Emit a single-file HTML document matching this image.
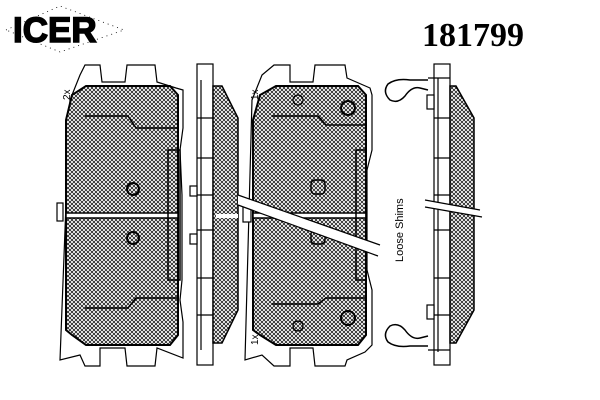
<!DOCTYPE html>
<html><head><style>
html,body{margin:0;padding:0;background:#fff;}
svg{display:block;}
</style></head><body>
<svg width="600" height="400" viewBox="0 0 600 400" xmlns="http://www.w3.org/2000/svg">
<defs>
<pattern id="h" width="4" height="4" patternUnits="userSpaceOnUse">
<rect width="4" height="4" fill="#fff"/>
<path d="M0,0L4,4M4,0L0,4" stroke="#000" stroke-width="0.7"/>
</pattern>
</defs>
<g fill="none" stroke="#000" stroke-width="1.2">
<!-- header -->
<text x="13" y="42" font-family="Liberation Sans,sans-serif" font-weight="bold" font-size="35" fill="#000" stroke="#000" stroke-width="1.5" letter-spacing="0">ICER</text>
<path d="M6,30 L60,6 L124,30 L60,52 Z" stroke-dasharray="1,4" stroke-width="0.8"/>
<text x="422" y="46" font-family="Liberation Serif,serif" font-weight="bold" font-size="34" fill="#000" stroke="none">181799</text>

<!-- left pad -->
<path d="M60,360 L70,100 L80,75 L85,65 L100,65 L102,82 L125,82 L127,65 L155,65 L157,82 L176,88 L183,90 L183,128 L180,150 L182,195 L182,280 L180,300 L183,322 L183,358 L157,348 L155,366 L127,366 L125,348 L100,348 L100,366 L85,366 L80,355 Z"/>
<path d="M66,330 L66,120 L72,95 L86,86 L170,86 L178,95 L178,335 L170,345 L86,345 L72,335 Z" fill="url(#h)" stroke-width="2"/>
<rect x="66" y="213" width="112" height="5" fill="#fff" stroke-width="1.5"/>
<path d="M85,116 L128,116 L136,128 L178,128 M85,308 L128,308 L136,298 L178,298 M168,150 L180,150 L180,280 L168,280 Z" stroke-width="1.5"/>
<circle cx="133" cy="189" r="6" stroke-width="2"/>
<circle cx="133" cy="238" r="6" stroke-width="2"/>
<rect x="57" y="203" width="6" height="18" fill="#fff"/>
<text x="70" y="100" font-family="Liberation Sans,sans-serif" font-size="10" fill="#000" stroke="none" transform="rotate(-90 70 100)">2x</text>

<!-- side view 1 -->
<rect x="197" y="64" width="16" height="301" fill="#fff"/>
<path d="M201,80 L201,350 M197,118 L213,118 M197,158 L213,158 M197,195 L213,195 M197,230 L213,230 M197,278 L213,278 M197,315 L213,315"/>
<path d="M213,86 L222,86 L238,118 L238,310 L222,343 L213,343 Z" fill="url(#h)" stroke-width="1.5"/>
<rect x="190" y="186" width="7" height="10" fill="#fff"/>
<rect x="190" y="234" width="7" height="10" fill="#fff"/>
<rect x="216" y="214" width="22" height="4" fill="#fff" stroke="none"/>

<!-- middle pad -->
<path d="M245,360 L252,100 L262,75 L274,65 L290,65 L290,82 L313,82 L315,65 L345,65 L347,78 L370,88 L372,95 L372,150 L367,170 L367,270 L372,290 L372,345 L365,352 L347,360 L345,366 L315,366 L313,348 L290,348 L290,366 L274,366 L262,355 Z"/>
<path d="M253,330 L253,120 L260,95 L276,86 L358,86 L366,95 L366,335 L358,345 L276,345 L260,335 Z" fill="url(#h)" stroke-width="2"/>
<rect x="253" y="213" width="113" height="5" fill="#fff" stroke-width="1.5"/>
<path d="M272,116 L318,116 L326,125 L366,125 M272,304 L318,304 L326,298 L366,298 M356,150 L366,150 L366,280 L356,280 Z" stroke-width="1.5"/>
<rect x="311" y="180" width="14" height="14" rx="4" fill="none" stroke-width="1.5"/>
<rect x="311" y="230" width="14" height="14" rx="4" fill="none" stroke-width="1.5"/>
<circle cx="348" cy="108" r="7" stroke-width="2"/>
<circle cx="348" cy="318" r="7" stroke-width="2"/>
<circle cx="298" cy="100" r="5"/>
<circle cx="298" cy="326" r="5"/>
<rect x="243" y="202" width="8" height="20" fill="#fff"/>
<text x="258" y="100" font-family="Liberation Sans,sans-serif" font-size="10" fill="#000" stroke="none" transform="rotate(-90 258 100)">1x</text>
<text x="258" y="345" font-family="Liberation Sans,sans-serif" font-size="10" fill="#000" stroke="none" transform="rotate(-90 258 345)">1x</text>
<!-- cut lines -->
<polygon points="238,195 380,245 378,256 238,205" fill="#fff" stroke="none"/>
<path d="M238,195 L380,245 M238,205 L378,256" stroke-width="1.2"/>

<!-- shims -->
<text x="403" y="262" font-family="Liberation Sans,sans-serif" font-size="11" fill="#000" stroke="none" transform="rotate(-90 403 262)">Loose Shims</text>
<path d="M428,90 L420,88 Q412,86 405,96 Q398,104 390,100 Q382,92 388,84 Q396,78 410,80 L428,80" stroke-width="1.5"/>
<path d="M428,336 L420,338 Q412,340 405,330 Q398,322 390,326 Q382,334 388,342 Q396,348 410,346 L428,346" stroke-width="1.5"/>
<rect x="434" y="64" width="16" height="301" fill="#fff"/>
<path d="M438,78 L438,352 M434,118 L450,118 M434,158 L450,158 M434,195 L450,195 M434,230 L450,230 M434,278 L450,278 M434,315 L450,315 M428,78 L450,78 M428,350 L450,350"/>
<rect x="427" y="95" width="7" height="14" fill="#fff"/>
<rect x="427" y="305" width="7" height="14" fill="#fff"/>
<path d="M450,86 L456,86 L474,118 L474,310 L456,343 L450,343 Z" fill="url(#h)" stroke-width="1.5"/>
<polygon points="425,200 480,210 482,217 425,207" fill="#fff" stroke="none"/>
<path d="M425,200 L480,210 M425,207 L482,217"/>
</g>
</svg>
</body></html>
